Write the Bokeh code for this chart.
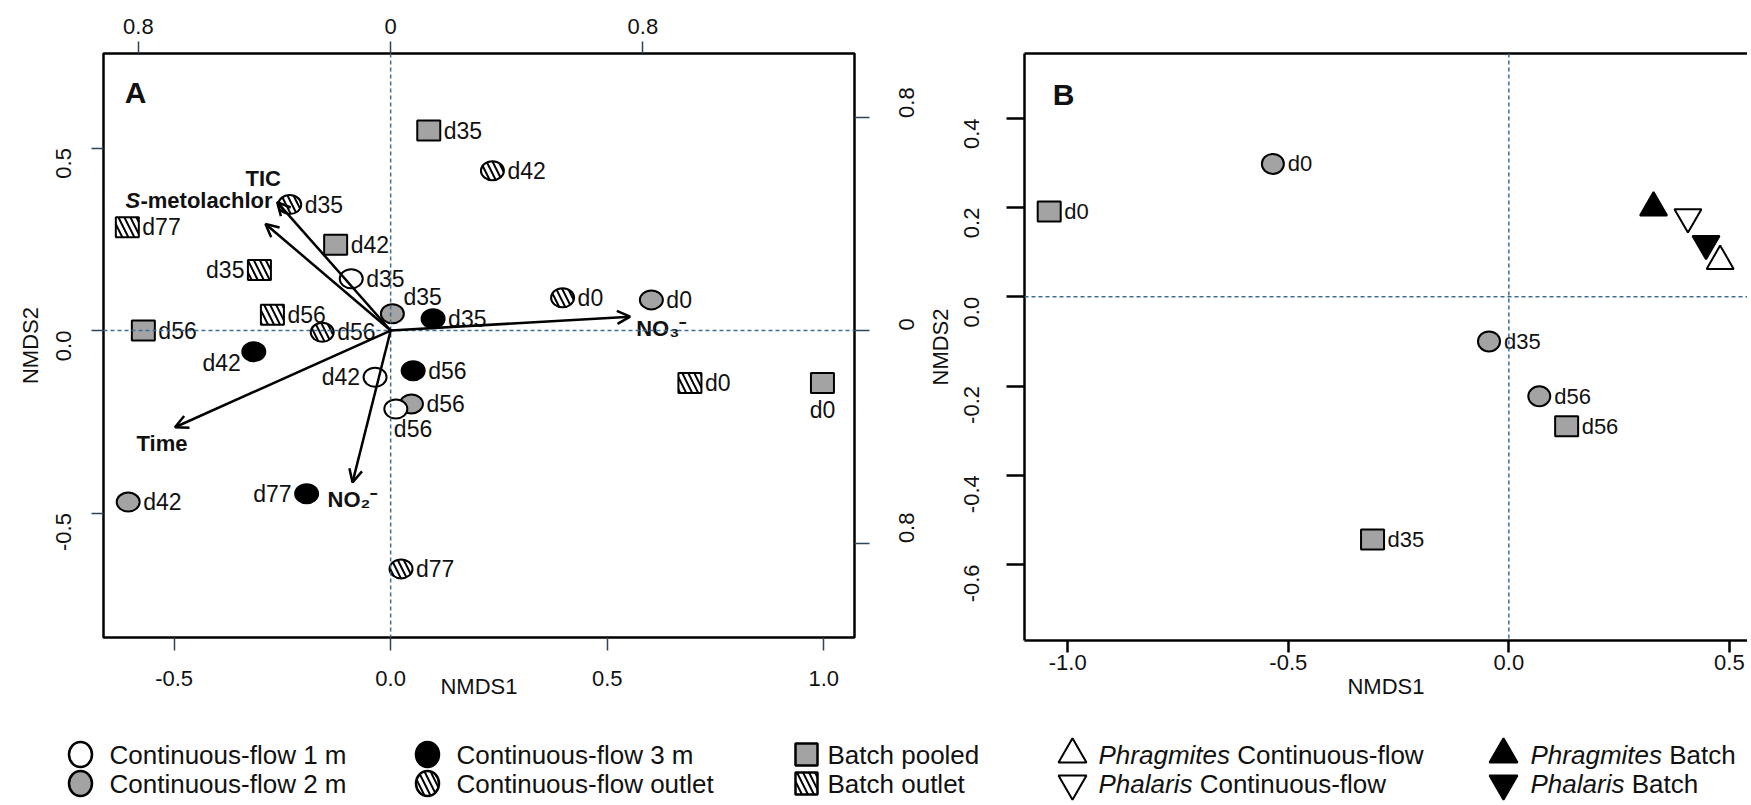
import math
from bokeh.plotting import figure
from bokeh.models import (Range1d, LinearAxis, FixedTicker, Span, Arrow, OpenHead,
                          ColumnDataSource, NumeralTickFormatter, CustomJSTickFormatter)
from bokeh.layouts import row, column
from bokeh.embed import file_html
from bokeh.resources import INLINE
from bokeh.core.properties import value

FONT = "Liberation Sans"

# ---------------- Panel A : NMDS scores ----------------
cf1_x = [-0.091, -0.036, 0.012]
cf1_y = [0.142, -0.128, -0.215]
cf1_day = ["d35", "d42", "d56"]
cf2_x = [0.004, 0.048, 0.602, -0.606]
cf2_y = [0.046, -0.201, 0.084, -0.470]
cf2_day = ["d35", "d56", "d0", "d42"]
cf3_x = [0.098, -0.316, 0.052, -0.194]
cf3_y = [0.032, -0.058, -0.110, -0.447]
cf3_day = ["d35", "d42", "d56", "d77"]
cfo_x = [-0.233, 0.235, -0.158, 0.397, 0.024]
cfo_y = [0.345, 0.438, -0.005, 0.090, -0.653]
cfo_day = ["d35", "d42", "d56", "d0", "d77"]
bp_x = [0.088, -0.127, -0.571, 0.997]
bp_y = [0.548, 0.235, 0.000, -0.144]
bp_day = ["d35", "d42", "d56", "d0"]
bo_x = [-0.608, -0.303, -0.273, 0.691]
bo_y = [0.283, 0.166, 0.043, -0.144]
bo_day = ["d77", "d35", "d56", "d0"]

# environmental vectors (fitted arrows)
env_names = ["TIC", "S-metolachlor", "NO\u2083\u207b", "Time", "NO\u2082\u207b"]
env_x = [-0.262, -0.289, 0.553, -0.498, -0.088]
env_y = [0.352, 0.292, 0.038, -0.265, -0.416]

# ---------------- Panel B ----------------
b_cf2_x = [-0.535, -0.045, 0.069]
b_cf2_y = [0.298, -0.100, -0.223]
b_cf2_day = ["d0", "d35", "d56"]
b_bp_x = [-1.042, -0.309, 0.131]
b_bp_y = [0.191, -0.544, -0.290]
b_bp_day = ["d0", "d35", "d56"]
plant_names = ["Phragmites Continuous-flow", "Phalaris Continuous-flow",
               "Phragmites Batch", "Phalaris Batch"]
plant_x = [0.479, 0.406, 0.328, 0.447]
plant_y = [0.080, 0.179, 0.200, 0.119]

# ticks
ticks_a_x = [-0.5, 0.0, 0.5, 1.0]
ticks_a_y = [-0.5, 0.0, 0.5]
ticks_bi = [-0.8, 0.0, 0.8]
ticks_b_x = [-1.0, -0.5, 0.0, 0.5]
ticks_b_y = [-0.6, -0.4, -0.2, 0.0, 0.2, 0.4]

# label placement codes (presentation only)
cf1_pos = ["r", "l", "br"]
cf2_pos = ["ar", "r", "r", "r"]
cf3_pos = ["r", "lb", "r", "l"]
cfo_pos = ["r", "r", "r", "r", "r"]
bp_pos = ["r", "r", "r", "b"]
bo_pos = ["r", "l", "r", "r"]

OFF = {"r": (15, 0, "left"), "l": (-15, 0, "right"), "b": (0, 27, "center"),
       "ar": (11, -17, "left"), "br": (-2, 20, "left"), "lb": (-13, 11, "right")}

GREY = "#a3a3a3"
DASH_COL = "#3d6d94"
TXT = "#111111"

XA = (-0.663, 1.071)
YA = (-0.841, 0.759)
BI = 0.728
XB = (-1.098, 0.541)
YB = (-0.7706, 0.5455)

HATCH = dict(hatch_pattern="\\", hatch_color="black", hatch_weight=2, hatch_scale=12)


def ellipses(p, xs, ys, fill, hatch=False, w=23, h=19):
    kw = dict(width=w, height=h, width_units="screen", height_units="screen",
              fill_color=fill, line_color="black", line_width=2)
    if hatch:
        kw.update(HATCH)
    p.ellipse(x="x", y="y", source=ColumnDataSource(dict(x=xs, y=ys)), **kw)


def squares(p, xs, ys, fill, hatch=False, w=23, h=20):
    kw = dict(width=w, height=h, width_units="screen", height_units="screen",
              fill_color=fill, line_color="black", line_width=2)
    if hatch:
        kw.update(HATCH)
    p.rect(x="x", y="y", source=ColumnDataSource(dict(x=xs, y=ys)), **kw)


def labels(p, xs, ys, texts, codes, size):
    for align in ("left", "right", "center"):
        idx = [i for i, c in enumerate(codes) if OFF[c][2] == align]
        if not idx:
            continue
        src = ColumnDataSource(dict(
            x=[xs[i] for i in idx], y=[ys[i] for i in idx], t=[texts[i] for i in idx],
            xo=[OFF[codes[i]][0] for i in idx], yo=[OFF[codes[i]][1] for i in idx]))
        p.text(x="x", y="y", text="t", x_offset="xo", y_offset="yo", source=src,
               text_align=align, text_baseline="middle", text_font=value(FONT),
               text_font_size=size, text_color=TXT)


def style_axis(ax, tick_out, standoff, tick_col, tick_w, label_standoff=10):
    ax.major_tick_out = tick_out
    ax.major_tick_in = 0
    ax.minor_tick_out = 0
    ax.minor_tick_in = 0
    ax.major_tick_line_color = tick_col
    ax.major_tick_line_width = tick_w
    ax.major_label_standoff = standoff
    ax.major_label_text_font = FONT
    ax.major_label_text_font_size = "22px"
    ax.major_label_text_color = TXT
    ax.axis_label_text_font = FONT
    ax.axis_label_text_font_size = "22px"
    ax.axis_label_text_font_style = "normal"
    ax.axis_label_text_color = TXT
    ax.axis_label_standoff = label_standoff


# =============== Panel A =================
pA = figure(frame_width=751, frame_height=584, x_range=Range1d(*XA), y_range=Range1d(*YA),
            output_backend="svg", toolbar_location=None,
            min_border_left=103, min_border_right=70, min_border_top=53, min_border_bottom=85)
pA.xgrid.visible = False
pA.ygrid.visible = False
pA.outline_line_color = "black"
pA.outline_line_width = 2.5
pA.background_fill_color = "white"
pA.border_fill_color = "white"

pA.xaxis.ticker = FixedTicker(ticks=ticks_a_x)
pA.yaxis.ticker = FixedTicker(ticks=ticks_a_y)
pA.xaxis.formatter = NumeralTickFormatter(format="0.0")
pA.yaxis.formatter = NumeralTickFormatter(format="0.0")
pA.xaxis.axis_label = "NMDS1"
pA.yaxis.axis_label = "NMDS2"
for ax in pA.xaxis:
    style_axis(ax, 13, 20, "#2e4457", 1.5, label_standoff=-15)
    ax.axis_line_color = None
for ax in pA.yaxis:
    style_axis(ax, 12, 28, "#2e4457", 1.5, label_standoff=3)
    ax.axis_line_color = None
    ax.major_label_orientation = math.pi / 2

bi_fmt = CustomJSTickFormatter(code="return Math.abs(tick) < 1e-9 ? '0' : Math.abs(tick).toFixed(1);")
pA.extra_x_ranges = {"bi": Range1d(XA[0] / BI, XA[1] / BI)}
pA.extra_y_ranges = {"bi": Range1d(YA[0] / BI, YA[1] / BI)}
top_ax = LinearAxis(x_range_name="bi", ticker=FixedTicker(ticks=ticks_bi), formatter=bi_fmt)
style_axis(top_ax, 12, 8, "#2e4457", 1.5)
top_ax.axis_line_color = None
pA.add_layout(top_ax, "above")
right_ax = LinearAxis(y_range_name="bi", ticker=FixedTicker(ticks=ticks_bi), formatter=bi_fmt)
style_axis(right_ax, 15, 37, "#2e4457", 1.5)
right_ax.axis_line_color = None
right_ax.major_label_orientation = math.pi / 2
pA.add_layout(right_ax, "right")

pA.add_layout(Span(location=0, dimension="height", line_color=DASH_COL, line_dash="4 3", line_width=1.5))
pA.add_layout(Span(location=0, dimension="width", line_color=DASH_COL, line_dash="4 3", line_width=1.5))

ellipses(pA, cf2_x, cf2_y, GREY)
ellipses(pA, cf1_x, cf1_y, "white")
ellipses(pA, cf3_x, cf3_y, "black")
ellipses(pA, cfo_x, cfo_y, "white", hatch=True)
squares(pA, bp_x, bp_y, GREY)
squares(pA, bo_x, bo_y, "white", hatch=True)

labels(pA, cf2_x, cf2_y, cf2_day, cf2_pos, "23px")
labels(pA, cf1_x, cf1_y, cf1_day, cf1_pos, "23px")
labels(pA, cf3_x, cf3_y, cf3_day, cf3_pos, "23px")
labels(pA, cfo_x, cfo_y, cfo_day, cfo_pos, "23px")
labels(pA, bp_x, bp_y, bp_day, bp_pos, "23px")
labels(pA, bo_x, bo_y, bo_day, bo_pos, "23px")

arrow_src = ColumnDataSource(dict(x0=[0.0] * len(env_x), y0=[0.0] * len(env_y), x1=env_x, y1=env_y))
pA.add_layout(Arrow(end=OpenHead(size=13, line_width=2.5, line_color="black"),
                    source=arrow_src, x_start="x0", y_start="y0", x_end="x1", y_end="y1",
                    line_width=2.5, line_color="black"))

# arrow labels: (text, font style, x offset, y offset, align)
env_lab = {
    0: [("TIC", "bold", -14, -24, "center")],
    1: [("S", "bold italic", -140, -23, "left"), (env_names[1][1:], "bold", -125, -23, "left")],
    2: [(env_names[2], "bold", 6, 12, "left")],
    3: [(env_names[3], "bold", -13, 16, "center")],
    4: [(env_names[4], "bold", -25, 17, "left")],
}
for i, parts in env_lab.items():
    for (t, style, xo, yo, al) in parts:
        pA.text(x=[env_x[i]], y=[env_y[i]], text=[t], x_offset=xo, y_offset=yo,
                text_align=al, text_baseline="middle", text_font=value(FONT),
                text_font_style=style, text_font_size="22px", text_color=TXT)

pA.text(x=[XA[0]], y=[YA[1]], text=["A"], x_offset=32, y_offset=39, text_align="center",
        text_baseline="middle", text_font=value(FONT), text_font_style="bold",
        text_font_size="30px", text_color=TXT)

# =============== Panel B =================
pB = figure(frame_width=723, frame_height=587, x_range=Range1d(*XB), y_range=Range1d(*YB),
            output_backend="svg", toolbar_location=None,
            min_border_left=100, min_border_right=0, min_border_top=49, min_border_bottom=86)
pB.xgrid.visible = False
pB.ygrid.visible = False
pB.outline_line_color = None
pB.background_fill_color = "white"
pB.border_fill_color = "white"
pB.xaxis.ticker = FixedTicker(ticks=ticks_b_x)
pB.yaxis.ticker = FixedTicker(ticks=ticks_b_y)
pB.xaxis.formatter = NumeralTickFormatter(format="0.0")
pB.yaxis.formatter = NumeralTickFormatter(format="0.0")
pB.xaxis.axis_label = "NMDS1"
pB.yaxis.axis_label = "NMDS2"
for ax in pB.xaxis:
    style_axis(ax, 12, 2, "black", 2.5, label_standoff=1)
    ax.axis_line_color = "black"
    ax.axis_line_width = 2.5
for ax in pB.yaxis:
    style_axis(ax, 18, 35, "black", 2.5, label_standoff=1)
    ax.axis_line_color = "black"
    ax.axis_line_width = 2.5
    ax.major_label_orientation = math.pi / 2
topB = LinearAxis(ticker=FixedTicker(ticks=[]), major_tick_out=0, major_tick_in=0,
                  minor_tick_out=0, minor_tick_in=0, axis_line_color="black", axis_line_width=2.5)
pB.add_layout(topB, "above")

pB.add_layout(Span(location=0, dimension="height", line_color=DASH_COL, line_dash="4 3", line_width=1.5))
pB.add_layout(Span(location=0, dimension="width", line_color=DASH_COL, line_dash="4 3", line_width=1.5))

ellipses(pB, b_cf2_x, b_cf2_y, GREY, w=22, h=20)
squares(pB, b_bp_x, b_bp_y, GREY, w=23, h=20)
labels(pB, b_cf2_x, b_cf2_y, b_cf2_day, ["r"] * len(b_cf2_x), "22px")
labels(pB, b_bp_x, b_bp_y, b_bp_day, ["r"] * len(b_bp_x), "22px")

plant_marker = ["triangle", "inverted_triangle", "triangle", "inverted_triangle"]
plant_fill = ["white", "white", "black", "black"]
pB.scatter(x="x", y="y", marker="m", fill_color="f", source=ColumnDataSource(
    dict(x=plant_x, y=plant_y, m=plant_marker, f=plant_fill)),
    size=27, line_color="black", line_width=2)

pB.text(x=[XB[0]], y=[YB[1]], text=["B"], x_offset=39, y_offset=41, text_align="center",
        text_baseline="middle", text_font=value(FONT), text_font_style="bold",
        text_font_size="30px", text_color=TXT)

# =============== Legend strip =================
LW, LH = 1747, 81
pL = figure(width=LW, height=LH, x_range=Range1d(0, LW), y_range=Range1d(LH, 0),
            output_backend="svg", toolbar_location=None, x_axis_location=None,
            y_axis_location=None, min_border=0)
pL.xgrid.visible = False
pL.ygrid.visible = False
pL.outline_line_color = None
pL.background_fill_color = "white"
pL.border_fill_color = "white"

r1, r2 = 32, 61
col_m = [80, 427, 806, 1072, 1503]
col_t = [109, 456, 827, 1098, 1530]
EM = 26.0
LFS = "26px"


def ltext(x, y, t, style="normal"):
    pL.text(x=[x], y=[y], text=[t], text_align="left", text_baseline="middle",
            text_font=value(FONT), text_font_style=style, text_font_size=LFS, text_color=TXT)


def lell(x, y, fill, hatch=False):
    kw = dict(width=23, height=25, width_units="screen", height_units="screen",
              fill_color=fill, line_color="black", line_width=2.5)
    if hatch:
        kw.update(HATCH)
    pL.ellipse(x=[x], y=[y], **kw)


def lsq(x, y, fill, hatch=False):
    kw = dict(width=22, height=22, width_units="screen", height_units="screen",
              fill_color=fill, line_color="black", line_width=2.5)
    if hatch:
        kw.update(HATCH)
    pL.rect(x=[x], y=[y], **kw)


lell(col_m[0], r1, "white"); ltext(col_t[0], r1, "Continuous-flow 1 m")
lell(col_m[0], r2, GREY); ltext(col_t[0], r2, "Continuous-flow 2 m")
lell(col_m[1], r1, "black"); ltext(col_t[1], r1, "Continuous-flow 3 m")
lell(col_m[1], r2, "white", hatch=True); ltext(col_t[1], r2, "Continuous-flow outlet")
lsq(col_m[2], r1, GREY); ltext(col_t[2], r1, "Batch pooled")
lsq(col_m[2], r2, "white", hatch=True); ltext(col_t[2], r2, "Batch outlet")

# italic genus + roman remainder
w_phrag = 5.057 * EM + 0.278 * EM
w_phal = 3.612 * EM + 0.278 * EM
plant_leg = [(col_m[3], r1, "triangle", "white", w_phrag),
             (col_m[3], r2, "inverted_triangle", "white", w_phal),
             (col_m[4], r1, "triangle", "black", w_phrag),
             (col_m[4], r2, "inverted_triangle", "black", w_phal)]
for k, (mx, my, mk, fc, wg) in enumerate(plant_leg):
    pL.scatter(x=[mx], y=[my], marker=mk, size=28, fill_color=fc, line_color="black", line_width=2)
    tx = col_t[3] if k < 2 else col_t[4]
    genus, rest = plant_names[k].split(" ", 1)
    ltext(tx, my, genus, "italic")
    ltext(tx + wg, my, rest)

layout = column(row(pA, pB), pL)
open("out.html", "w").write(file_html(layout, INLINE))
